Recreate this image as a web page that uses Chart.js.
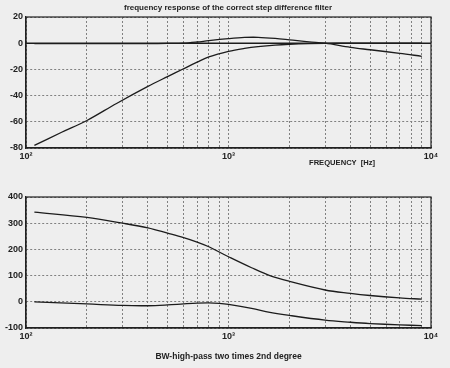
<!DOCTYPE html>
<html>
<head>
<meta charset="utf-8">
<script src="https://cdn.jsdelivr.net/npm/chart.js@4"></script>
<style>
    body { margin: 0; background: #eeeeee; width: 450px; height: 368px; overflow: hidden; position: relative; }
    canvas { position: absolute; left: 0; }
    #magChart { top: 0; }
    #phaseChart { top: 180px; }
    .label { position: absolute; font: bold 8px "Liberation Sans", Arial, sans-serif; color: #222; white-space: pre; }
</style>
</head>
<body>
<canvas id="magChart" width="450" height="175"></canvas>
<canvas id="phaseChart" width="450" height="188"></canvas>
<div class="label" style="left:0; width:456px; text-align:center; top:3px;">frequency response of the correct step difference filter</div>
<div class="label" style="left:309px; top:158px; font-size:7.6px;">FREQUENCY  [Hz]</div>

<script>
// frequency response data
const magFreq = [110, 150, 200, 280, 400, 500, 600, 700, 800, 1000, 1200, 1400, 1700, 2000, 2500, 3000, 4000, 5000, 7000, 9000];
const sumDb   = [-0.3, -0.3, -0.3, -0.3, -0.3, -0.2, 0, 0.9, 2, 3.5, 4.4, 4.5, 3.7, 2.6, 1, 0, -3.2, -5, -7.7, -10];
const highDb  = [-78, -68, -59, -46, -33, -25.5, -19.5, -14.5, -10.5, -6.3, -4, -2.6, -1.4, -0.8, -0.3, -0.1, 0, 0, 0, 0];

// phase data
const phaseFreq = [110, 200, 300, 400, 500, 600, 700, 800, 900, 1000, 1300, 1600, 2000, 3000, 4000, 5000, 7000, 9000];
const phaseA    = [342, 322, 300, 282, 262, 245, 228, 210, 190, 172, 130, 100, 78, 45, 32, 24, 15, 10];
const phaseB    = [0, -8, -14, -15, -12, -8, -5, -4, -6, -10, -25, -40, -52, -70, -78, -83, -88, -91];

const zeroLine = [100, 10000];

// grid ticks on the log axis
const freqTicks = [100, 200, 300, 400, 500, 600, 700, 800, 900, 1000,
                   2000, 3000, 4000, 5000, 6000, 7000, 8000, 9000, 10000];
const decadeLabels = { 100: '10²', 1000: '10³', 10000: '10⁴' };

const tickFont = { family: 'Liberation Sans', size: 9, weight: 'bold' };

function pts(xs, ys) {
    return xs.map((x, i) => ({ x: x, y: ys[i] }));
}

function curve(data) {
    return {
        data: data,
        borderColor: '#1c1c1c',
        borderWidth: 1.3,
        pointRadius: 0,
        showLine: true,
        tension: 0.35
    };
}

// draws the top and right edges of the plot box
const boxPlugin = {
    id: 'box',
    afterDraw(chart) {
        const { ctx, chartArea: a } = chart;
        ctx.save();
        ctx.strokeStyle = '#222';
        ctx.lineWidth = 1.2;
        ctx.strokeRect(a.left, a.top, a.right - a.left, a.bottom - a.top);
        ctx.restore();
    }
};

function makeOptions(yMin, yMax, step, xHeight, xTitle) {
    return {
        responsive: false,
        animation: false,
        layout: { padding: { top: 17, right: 19, left: 0, bottom: 0 } },
        plugins: { legend: { display: false }, tooltip: { enabled: false } },
        scales: {
            x: {
                type: 'logarithmic',
                min: 100,
                max: 10000,
                afterBuildTicks: scale => { scale.ticks = freqTicks.map(v => ({ value: v })); },
                afterFit: scale => { scale.height = xHeight; },
                ticks: {
                    autoSkip: false,
                    maxRotation: 0,
                    padding: 3,
                    color: '#222',
                    font: tickFont,
                    callback: v => decadeLabels[v] || ''
                },
                grid: { color: '#808080', lineWidth: 1, drawTicks: false },
                border: { color: '#222', width: 1.2, dash: [2, 2] },
                title: xTitle ? {
                    display: true,
                    text: xTitle,
                    color: '#222',
                    font: { family: 'Liberation Sans', size: 8.5, weight: 'bold' },
                    padding: { top: 0, bottom: 6 }
                } : { display: false }
            },
            y: {
                min: yMin,
                max: yMax,
                afterFit: scale => { scale.width = 26; },
                ticks: { stepSize: step, padding: 3, color: '#222', font: tickFont },
                grid: { color: '#808080', lineWidth: 1, drawTicks: false },
                border: { color: '#222', width: 1.2, dash: [2, 2] }
            }
        }
    };
}

// magnitude plot
new Chart(document.getElementById('magChart'), {
    type: 'scatter',
    data: {
        datasets: [
            { ...curve(zeroLine.map(x => ({ x: x, y: 0 }))), tension: 0, borderWidth: 1.4 },
            curve(pts(magFreq, sumDb)),
            curve(pts(magFreq, highDb))
        ]
    },
    options: makeOptions(-80, 20, 20, 27, null),
    plugins: [boxPlugin]
});

// phase plot
new Chart(document.getElementById('phaseChart'), {
    type: 'scatter',
    data: {
        datasets: [
            curve(pts(phaseFreq, phaseA)),
            curve(pts(phaseFreq, phaseB))
        ]
    },
    options: makeOptions(-100, 400, 100, 40, 'BW-high-pass two times 2nd degree'),
    plugins: [boxPlugin]
});
</script>
</body>
</html>
